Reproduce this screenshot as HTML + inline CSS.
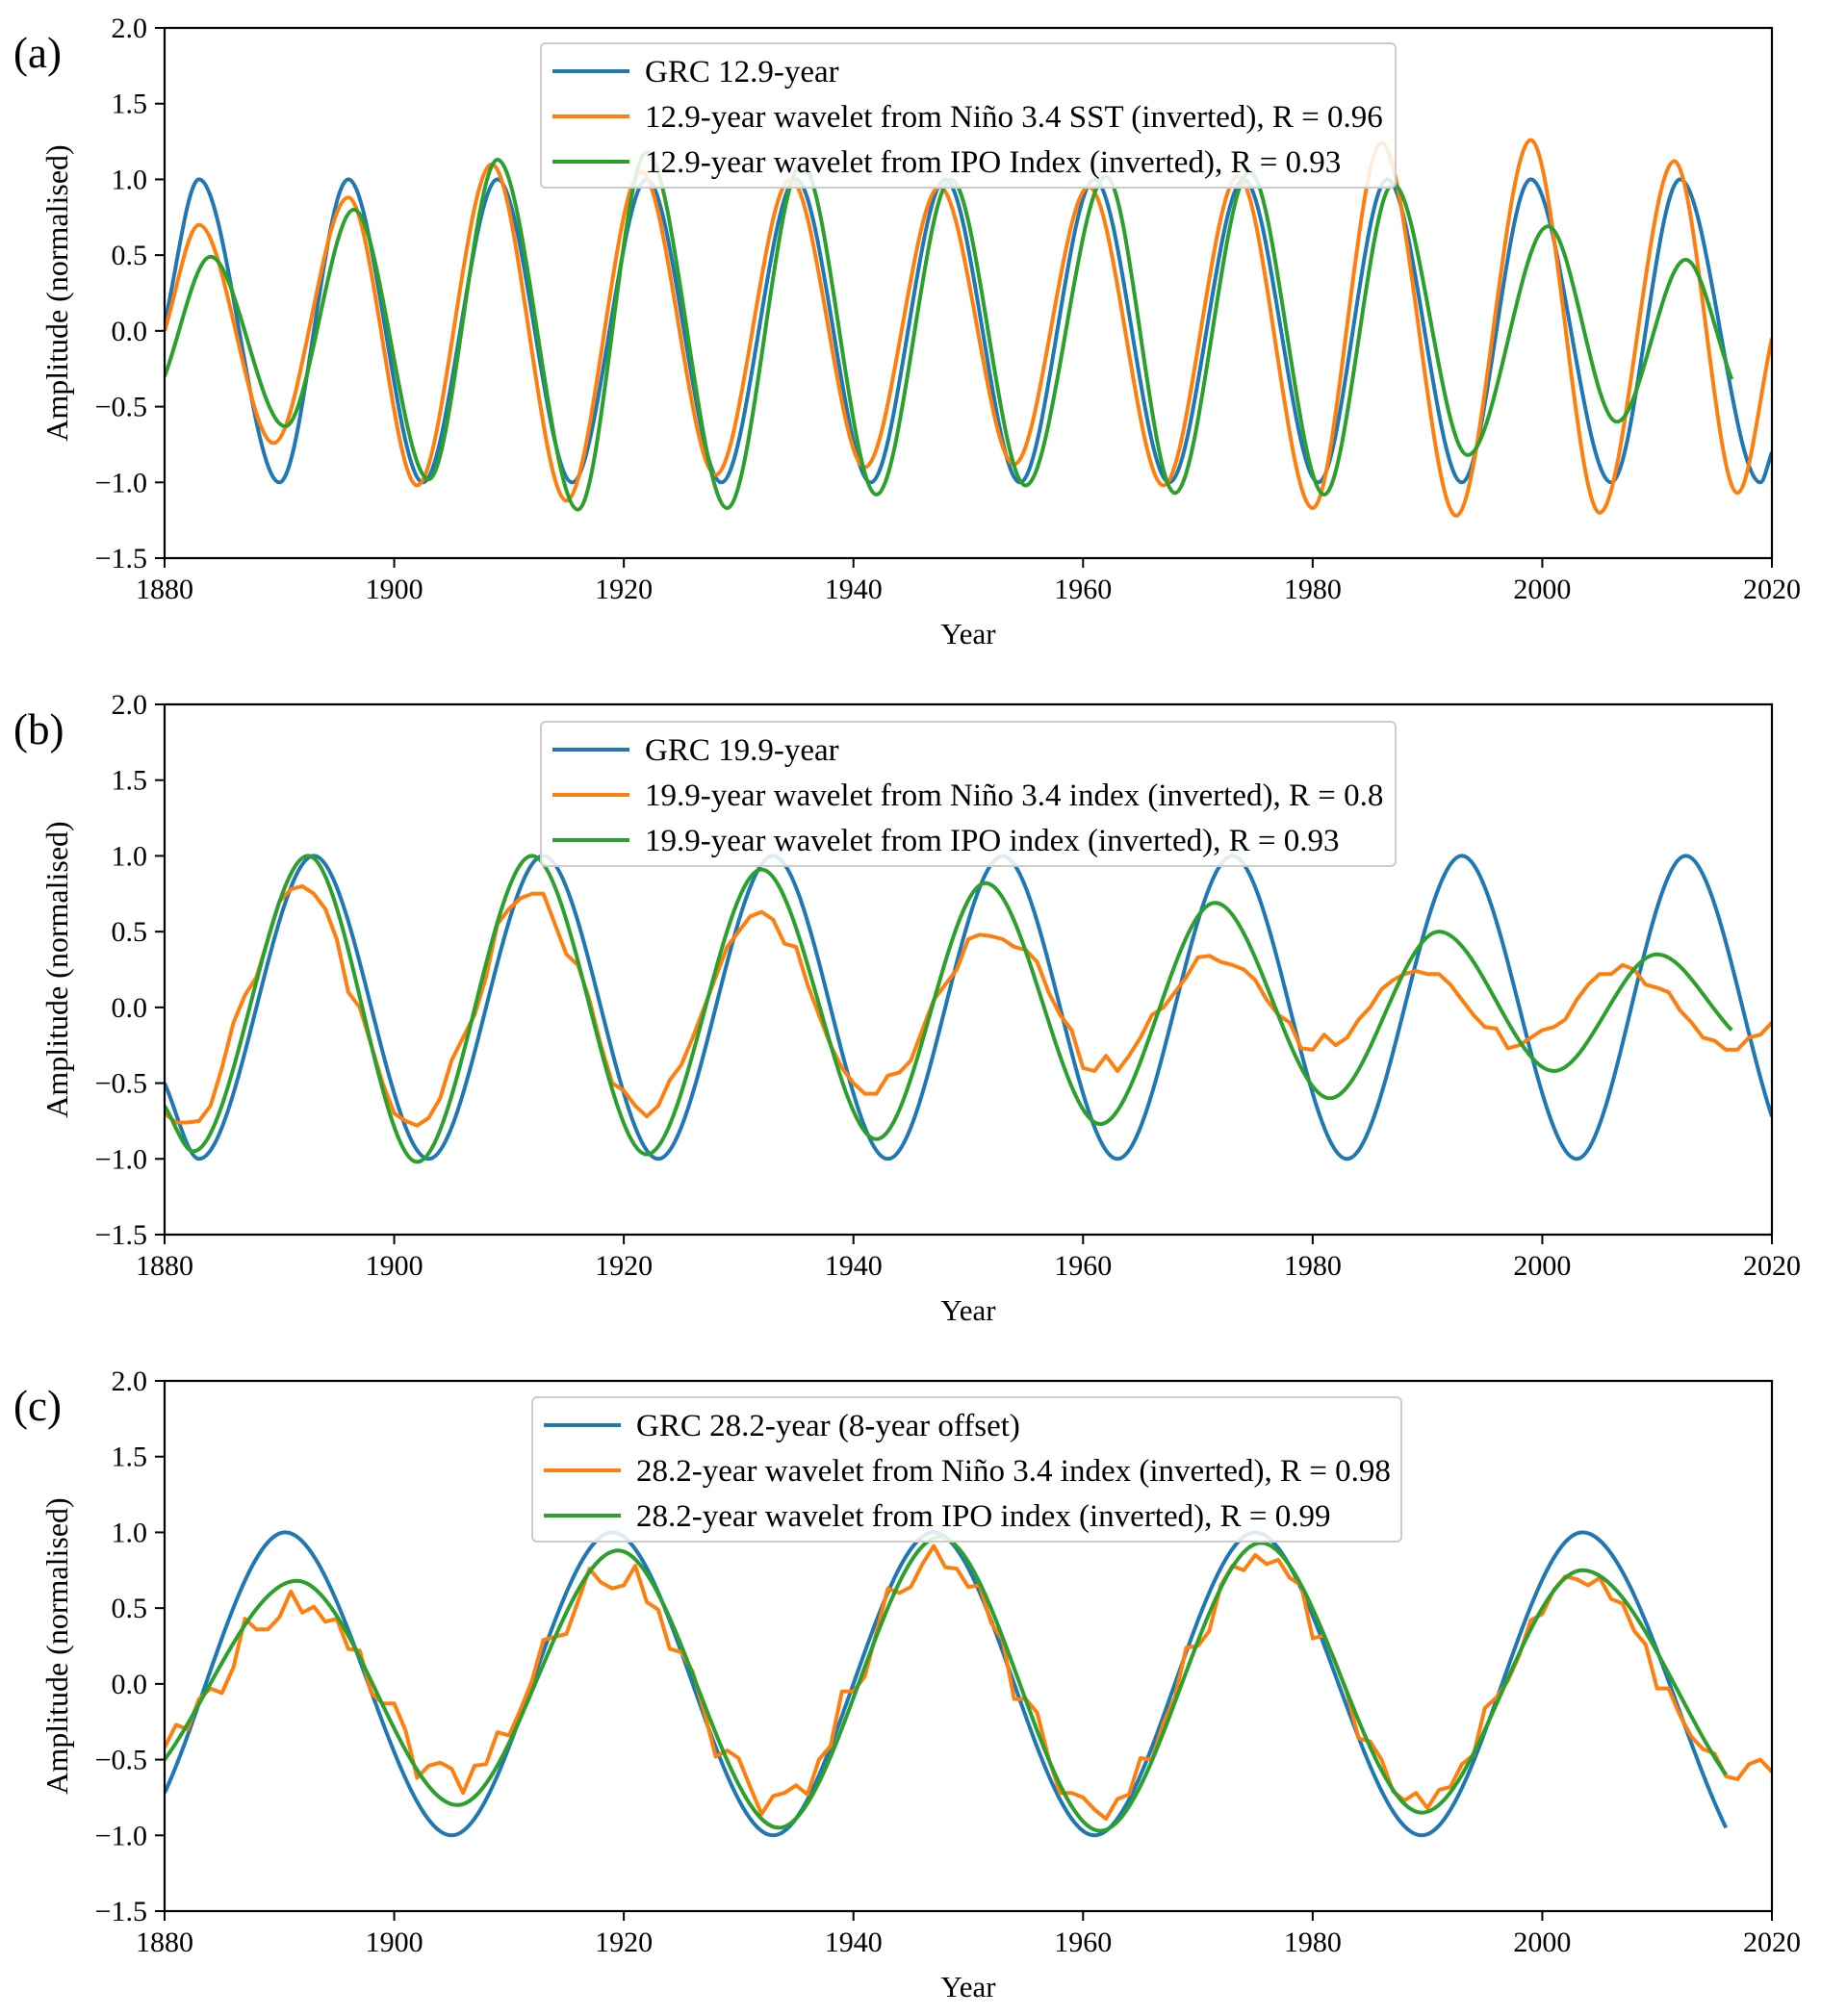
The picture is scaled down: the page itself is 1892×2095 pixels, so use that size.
<!DOCTYPE html>
<html><head><meta charset="utf-8">
<style>
html,body{margin:0;padding:0;background:#fff;}
svg{display:block;font-family:"Liberation Serif",serif;}
</style></head>
<body>
<svg id="fig" width="1892" height="2095" viewBox="0 0 1892 2095" xmlns="http://www.w3.org/2000/svg"></svg>
<script>
// ---------- data ----------
const xTicks = [1880,1900,1920,1940,1960,1980,2000,2020];
const yTicks = [2.0,1.5,1.0,0.5,0.0,-0.5,-1.0,-1.5];
const yTickLabels = ["2.0","1.5","1.0","0.5","0.0","\u22120.5","\u22121.0","\u22121.5"];

// Panel (a)
const aBlueYears = [1880,1883,1890,1896,1902.5,1909,1915.5,1922,1928.5,1935,1941.5,1948,1954.5,1961,1967.5,1974,1980.5,1986.5,1993,1999,2006,2012,2019,2020];
const aBlueVals  = [0.05,1.0,-1.0,1.0,-1.0,1.0,-1.0,1.0,-1.0,1.0,-1.0,1.0,-1.0,1.0,-1.0,1.0,-1.0,1.0,-1.0,1.0,-1.0,1.0,-1.0,-0.8];
const aOrangeYears = [1880,1883,1889.5,1896,1902,1908.5,1915,1921.5,1928,1934.5,1941,1947.5,1954,1960.5,1967,1973.5,1980,1986,1992.5,1999,2005,2011.5,2017,2020];
const aOrangeVals  = [0.0,0.7,-0.74,0.88,-1.02,1.1,-1.12,1.05,-0.95,1.0,-0.9,0.95,-0.88,0.95,-1.02,1.02,-1.17,1.24,-1.22,1.26,-1.2,1.12,-1.07,-0.05];
const aGreenYears = [1880,1884,1890.5,1896.5,1903,1909,1916,1922,1929,1935.5,1942,1948.5,1955,1962,1968,1974.5,1981,1987,1993.5,2000.5,2006.5,2012.5,2016.5];
const aGreenVals  = [-0.3,0.49,-0.63,0.8,-0.98,1.13,-1.18,1.18,-1.17,1.1,-1.08,1.0,-1.02,1.02,-1.07,1.05,-1.08,0.97,-0.82,0.69,-0.6,0.47,-0.32];

// Panel (b)
const bBlueYears = [1880,1883,1893,1903,1913,1923,1933,1943,1953,1963,1973,1983,1993,2003,2012.5,2020];
const bBlueVals  = [-0.5,-1.0,1.0,-1.0,1.0,-1.0,1.0,-1.0,1.0,-1.0,1.0,-1.0,1.0,-1.0,1.0,-0.72];
const bGreenYears = [1880,1882.5,1892.5,1902,1912,1922,1932,1942,1951.5,1961.5,1971.5,1981.5,1991,2001,2010,2016.5];
const bGreenVals  = [-0.65,-0.95,1.0,-1.02,1.0,-0.97,0.91,-0.87,0.82,-0.77,0.69,-0.6,0.5,-0.42,0.35,-0.15];
const bOrangeStart = 1880;
const bOrangeVals = [-0.7,-0.76,-0.76,-0.75,-0.65,-0.4,-0.1,0.08,0.2,0.45,0.7,0.78,0.8,0.75,0.65,0.45,0.1,0.0,-0.25,-0.5,
 -0.7,-0.75,-0.78,-0.73,-0.6,-0.35,-0.2,-0.05,0.2,0.55,0.65,0.72,0.75,0.75,0.55,0.35,0.28,0.05,-0.25,-0.5,
 -0.55,-0.65,-0.72,-0.65,-0.48,-0.38,-0.2,0.0,0.2,0.4,0.5,0.6,0.63,0.58,0.42,0.4,0.15,-0.05,-0.25,-0.4,
 -0.5,-0.57,-0.57,-0.45,-0.43,-0.35,-0.15,0.05,0.15,0.25,0.45,0.48,0.47,0.45,0.4,0.38,0.3,0.1,-0.05,-0.15,
 -0.4,-0.42,-0.32,-0.42,-0.32,-0.2,-0.05,0.0,0.1,0.2,0.33,0.34,0.3,0.28,0.25,0.18,0.05,-0.05,-0.1,-0.27,
 -0.28,-0.18,-0.25,-0.2,-0.08,0.0,0.12,0.18,0.22,0.24,0.22,0.22,0.15,0.05,-0.05,-0.13,-0.14,-0.27,-0.25,-0.2,
 -0.15,-0.13,-0.08,0.05,0.15,0.22,0.22,0.28,0.25,0.15,0.13,0.1,-0.02,-0.1,-0.2,-0.22,-0.28,-0.28,-0.2,-0.18,-0.1];

// Panel (c)
const cBlueYears = [1880,1890.5,1905,1919,1933,1947,1961,1975,1989.5,2003.5,2016];
const cBlueVals  = [-0.72,1.0,-1.0,1.0,-1.0,1.0,-1.0,1.0,-1.0,1.0,-0.95];
const cGreenYears = [1880,1891.5,1905.5,1919.5,1933.5,1947.5,1961.5,1975.5,1989.5,2003.5,2016];
const cGreenVals  = [-0.5,0.68,-0.8,0.88,-0.95,0.97,-0.97,0.93,-0.85,0.75,-0.6];
const cOrangeStart = 1880;
const cOrangeVals = [-0.42,-0.27,-0.30,-0.10,-0.03,-0.06,0.11,0.43,0.36,0.36,0.44,0.61,0.47,0.51,0.41,0.43,0.23,0.22,-0.06,-0.13,
 -0.13,-0.31,-0.62,-0.54,-0.52,-0.56,-0.72,-0.54,-0.53,-0.32,-0.34,-0.17,0.02,0.29,0.31,0.33,0.54,0.76,0.67,0.63,
 0.65,0.78,0.54,0.49,0.23,0.21,0.08,-0.18,-0.48,-0.44,-0.49,-0.68,-0.86,-0.74,-0.72,-0.67,-0.73,-0.50,-0.41,-0.05,
 -0.05,0.05,0.34,0.63,0.60,0.64,0.79,0.91,0.77,0.76,0.64,0.65,0.40,0.29,-0.10,-0.10,-0.19,-0.49,-0.72,-0.72,
 -0.75,-0.83,-0.89,-0.76,-0.73,-0.49,-0.50,-0.26,-0.09,0.24,0.25,0.35,0.65,0.78,0.75,0.85,0.79,0.82,0.70,0.65,
 0.30,0.32,0.14,-0.06,-0.36,-0.38,-0.50,-0.71,-0.77,-0.72,-0.82,-0.70,-0.68,-0.53,-0.47,-0.16,-0.09,0.02,0.19,0.42,
 0.46,0.62,0.71,0.69,0.65,0.70,0.56,0.53,0.35,0.26,-0.03,-0.03,-0.21,-0.35,-0.43,-0.46,-0.61,-0.63,-0.53,-0.50,-0.58];

// ---------- drawing ----------
const NS = "http://www.w3.org/2000/svg";
const svg = document.getElementById('fig');
const BLUE="#1f77b4", ORANGE="#ff7f0e", GREEN="#2ca02c";
const L=171, R=1841, H=551;
function mk(tag, attrs, parent){const e=document.createElementNS(NS,tag);for(const k in attrs)e.setAttribute(k,attrs[k]);(parent||svg).appendChild(e);return e;}

function monoPath(xs, ys){
  const n=xs.length; if(n<2) return "";
  const d=[],m=[];
  for(let i=0;i<n-1;i++) d.push((ys[i+1]-ys[i])/(xs[i+1]-xs[i]));
  m[0]=d[0]; m[n-1]=d[n-2];
  for(let i=1;i<n-1;i++){ if(d[i-1]*d[i]<=0) m[i]=0; else m[i]=(d[i-1]+d[i])/2; }
  let p="M"+xs[0].toFixed(1)+","+ys[0].toFixed(1);
  for(let i=0;i<n-1;i++){
    const h=xs[i+1]-xs[i];
    p+=" C"+(xs[i]+h/3).toFixed(1)+","+(ys[i]+m[i]*h/3).toFixed(1)+" "+(xs[i+1]-h/3).toFixed(1)+","+(ys[i+1]-m[i+1]*h/3).toFixed(1)+" "+xs[i+1].toFixed(1)+","+ys[i+1].toFixed(1);
  }
  return p;
}

function panel(top, label, legendBox, legendTexts, series){
  const g=mk('g',{});
  
  
  const xS=y=>L+(y-1880)/140*(R-L);
  const yS=v=>top+(2-v)/3.5*H;
  const clipId='clip'+label;
  const cp=mk('clipPath',{id:clipId},g); mk('rect',{x:L,y:top,width:R-L,height:H},cp);
  const sg=mk('g',{'clip-path':'url(#'+clipId+')'},g);
  series.forEach(s=>{
    const xs=s.years.map(xS), ys=s.vals.map(yS);
    let d;
    if(s.smooth) d=monoPath(xs,ys);
    else d=xs.map((x,i)=>(i?'L':'M')+x.toFixed(1)+','+ys[i].toFixed(1)).join(' ');
    const p=mk('path',{d:d,fill:'none',stroke:s.color,'stroke-width':4,'stroke-linejoin':'round'},sg);
    
    
  });
  const fr=mk('rect',{x:L,y:top,width:R-L,height:H,fill:'none',stroke:'#000','stroke-width':2.2},g);
  
  
  xTicks.forEach(t=>{
    const x=xS(t);
    mk('line',{x1:x,x2:x,y1:top+H,y2:top+H+10,stroke:'#000','stroke-width':2},g);
    const tx=mk('text',{x:x,y:top+H+42,'font-size':30,'text-anchor':'middle',fill:'#000'},g);
    tx.textContent=t;
    
    
  });
  yTicks.forEach((t,i)=>{
    const y=yS(t);
    mk('line',{x1:L-10,x2:L,y1:y,y2:y,stroke:'#000','stroke-width':2},g);
    const tx=mk('text',{x:L-18,y:y+10,'font-size':30,'text-anchor':'end',fill:'#000'},g);
    tx.textContent=yTickLabels[i];
    
    
  });
  const xt=mk('text',{x:(L+R)/2,y:top+H+89,'font-size':31,'text-anchor':'middle'},g);
  xt.textContent='Year';
  
  
  const cy=top+H/2;
  const yt=mk('text',{x:70,y:cy,'font-size':32,'text-anchor':'middle',transform:'rotate(-90 70 '+cy+')'},g);
  yt.textContent='Amplitude (normalised)';
  
  
  const pl=mk('text',{x:14,y:top+41,'font-size':45},g);
  pl.textContent='('+label+')';
  
  
  const lg=mk('g',{},g);
  
  
  mk('rect',{x:legendBox[0],y:top+legendBox[1],width:legendBox[2],height:150,rx:5,fill:'#fff','fill-opacity':0.85,stroke:'#ccc','stroke-width':2},lg);
  const cols=[BLUE,ORANGE,GREEN];
  legendTexts.forEach((t,i)=>{
    const y=top+legendBox[1]+29+i*47;
    mk('line',{x1:legendBox[0]+12,x2:legendBox[0]+92,y1:y,y2:y,stroke:cols[i],'stroke-width':4},lg);
    const tx=mk('text',{x:legendBox[0]+108,y:y+11,'font-size':33},lg);
    tx.textContent=t;
    
    
  });
}
const seq=(start,vals)=>vals.map((v,i)=>start+i);

panel(29,'a',[562,16,888],["GRC 12.9-year","12.9-year wavelet from Ni\u00f1o 3.4 SST (inverted), R = 0.96","12.9-year wavelet from IPO Index (inverted), R = 0.93"],[
  {name:'grc-12.9-line',color:BLUE,years:aBlueYears,vals:aBlueVals,smooth:true},
  {name:'nino34-12.9-line',color:ORANGE,years:aOrangeYears,vals:aOrangeVals,smooth:true},
  {name:'ipo-12.9-line',color:GREEN,years:aGreenYears,vals:aGreenVals,smooth:true}
]);
panel(732,'b',[562,18,888],["GRC 19.9-year","19.9-year wavelet from Ni\u00f1o 3.4 index (inverted), R = 0.8","19.9-year wavelet from IPO index (inverted), R = 0.93"],[
  {name:'grc-19.9-line',color:BLUE,years:bBlueYears,vals:bBlueVals,smooth:true},
  {name:'nino34-19.9-line',color:ORANGE,years:seq(bOrangeStart,bOrangeVals),vals:bOrangeVals,smooth:false},
  {name:'ipo-19.9-line',color:GREEN,years:bGreenYears,vals:bGreenVals,smooth:true}
]);
panel(1435,'c',[553,17,903],["GRC 28.2-year (8-year offset)","28.2-year wavelet from Ni\u00f1o 3.4 index (inverted), R = 0.98","28.2-year wavelet from IPO index (inverted), R = 0.99"],[
  {name:'grc-28.2-line',color:BLUE,years:cBlueYears,vals:cBlueVals,smooth:true},
  {name:'nino34-28.2-line',color:ORANGE,years:seq(cOrangeStart,cOrangeVals),vals:cOrangeVals,smooth:false},
  {name:'ipo-28.2-line',color:GREEN,years:cGreenYears,vals:cGreenVals,smooth:true}
]);
</script>
</body></html>
